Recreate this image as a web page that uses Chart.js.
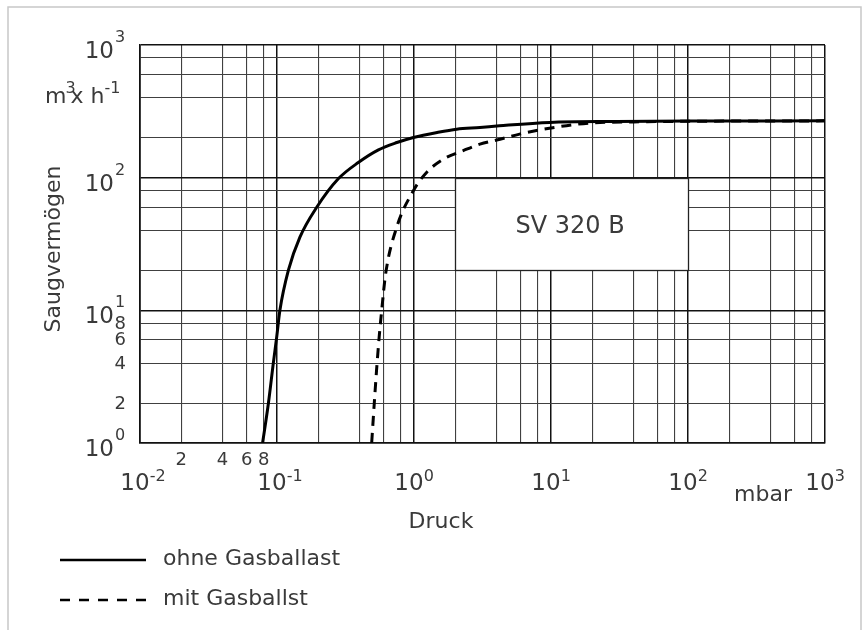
<!DOCTYPE html>
<html>
<head>
<meta charset="utf-8">
<script src="https://cdn.jsdelivr.net/npm/chart.js@4.4.1/dist/chart.umd.min.js"></script>
<style>
  html, body { margin: 0; padding: 0; background: #fff; }
  canvas { display: block; }
</style>
</head>
<body>
<canvas id="pumpChart" width="867" height="630"></canvas>
<script>
// Saugvermögen (m3/h) über Druck (mbar)
const druckOhne = [0.0785, 0.0866, 0.094, 0.0995, 0.105, 0.121, 0.147, 0.195, 0.28, 0.392, 0.55, 0.75, 0.99, 1.5, 2.05, 3.03, 4.2, 9.8, 30, 100, 1000];
const saugOhne  = [1, 2, 4, 6.3, 10, 20, 35.6, 59.8, 98, 130, 162, 184, 201, 220, 232, 239, 246, 261, 265, 267, 268];

const druckMit = [0.491, 0.513, 0.533, 0.557, 0.581, 0.621, 0.748, 0.99, 1.24, 1.64, 2.29, 3.03, 4.25, 5.9, 10, 19.3, 50, 100, 1000];
const saugMit  = [1, 2, 3.54, 6.3, 10, 18.9, 42.3, 79.8, 110, 138, 160, 179, 195, 213, 237, 258, 264, 266, 268];

const seriesNames = ['ohne Gasballast', 'mit Gasballst'];

// Achsen / Raster
const mantissas = [1, 2, 4, 6, 8];
const xDecades = [0.01, 0.1, 1, 10, 100, 1000];
const xExponents = ['-2', '-1', '0', '1', '2', '3'];
const yDecades = [1, 10, 100, 1000];
const yExponents = ['0', '1', '2', '3'];
const minorLabelValues = [2, 4, 6, 8];
const xMinorLabelValues = [0.02, 0.04, 0.06, 0.08];

const typeLabel = 'SV 320 B';
const typeBox = { xFrom: 2, xTo: 100, yFrom: 20, yTo: 100 };

const FONT = '"DejaVu Sans", sans-serif';
const TEXT = '#3a3a3a';

function gridValues(decades) {
  const vals = [];
  decades.forEach((d, i) => {
    if (i === decades.length - 1) { vals.push(d); return; }
    mantissas.forEach(m => vals.push(+(m * d).toPrecision(3)));
  });
  return vals;
}
const xGrid = gridValues(xDecades);
const yGrid = gridValues(yDecades);

function isDecade(v) {
  const l = Math.log10(v);
  return Math.abs(l - Math.round(l)) < 1e-6;
}

function toPoints(xs, ys) {
  return xs.map((x, i) => ({ x: x, y: ys[i] }));
}

const drawing = {
  id: 'drawing',
  beforeDraw(chart) {
    const ctx = chart.ctx;
    ctx.save();
    ctx.fillStyle = '#fff';
    ctx.fillRect(0, 0, chart.width, chart.height);
    ctx.strokeStyle = '#c8c8c8';
    ctx.lineWidth = 1.5;
    ctx.beginPath();
    ctx.moveTo(8, chart.height);
    ctx.lineTo(8, 7);
    ctx.lineTo(861, 7);
    ctx.lineTo(861, chart.height);
    ctx.stroke();
    ctx.restore();
  },
  beforeDatasetsDraw(chart) {
    const ctx = chart.ctx;
    const xs = chart.scales.x, ys = chart.scales.y;
    const l = Math.round(xs.getPixelForValue(typeBox.xFrom)) + 0.5;
    const r = Math.round(xs.getPixelForValue(typeBox.xTo)) + 0.5;
    const t = Math.round(ys.getPixelForValue(typeBox.yTo)) + 0.5;
    const b = Math.round(ys.getPixelForValue(typeBox.yFrom)) + 0.5;
    ctx.save();
    ctx.fillStyle = '#fff';
    ctx.fillRect(l, t, r - l, b - t);
    ctx.strokeStyle = '#222';
    ctx.lineWidth = 1.3;
    ctx.strokeRect(l, t, r - l, b - t);
    ctx.fillStyle = TEXT;
    ctx.font = '24px ' + FONT;
    ctx.textAlign = 'center';
    ctx.textBaseline = 'middle';
    ctx.fillText(typeLabel, (l + r) / 2 - 2, (t + b) / 2 + 2);
    ctx.restore();
  },
  afterDraw(chart) {
    const ctx = chart.ctx;
    const xs = chart.scales.x, ys = chart.scales.y;
    ctx.save();
    ctx.fillStyle = TEXT;
    ctx.textBaseline = 'alphabetic';

    // y-Achse: Dekaden
    yDecades.forEach((v, i) => {
      const py = ys.getPixelForValue(v);
      ctx.font = '23px ' + FONT;
      ctx.textAlign = 'right';
      ctx.fillText('10', 114, py + 13);
      ctx.font = '16px ' + FONT;
      ctx.textAlign = 'left';
      ctx.fillText(yExponents[i], 115, py - 3);
    });
    // y-Achse: Zwischenwerte
    ctx.font = '18px ' + FONT;
    ctx.textAlign = 'right';
    ctx.textBaseline = 'middle';
    minorLabelValues.forEach(v => {
      ctx.fillText(String(v), 126, ys.getPixelForValue(v) + 1);
    });
    ctx.textBaseline = 'alphabetic';

    // x-Achse: Dekaden
    xDecades.forEach((v, i) => {
      const px = xs.getPixelForValue(v);
      ctx.font = '23px ' + FONT;
      ctx.textAlign = 'center';
      const w = ctx.measureText('10').width;
      ctx.fillText('10', px - 5, 490);
      ctx.font = '16px ' + FONT;
      ctx.textAlign = 'left';
      ctx.fillText(xExponents[i], px - 5 + w / 2, 481);
    });
    // x-Achse: Zwischenwerte
    ctx.font = '18px ' + FONT;
    ctx.textAlign = 'center';
    xMinorLabelValues.forEach((v, i) => {
      ctx.fillText(String(minorLabelValues[i]), xs.getPixelForValue(v), 465);
    });

    // Einheiten
    ctx.font = '22px ' + FONT;
    ctx.textAlign = 'left';
    ctx.fillText('mbar', 734, 501);

    let ux = 45;
    ctx.fillText('m', ux, 103);
    ux += ctx.measureText('m').width;
    ctx.font = '16px ' + FONT;
    ctx.fillText('3', ux - 1, 93);
    ux += 4;
    ctx.font = '22px ' + FONT;
    ctx.fillText('x h', ux, 103);
    ux += ctx.measureText('x h').width;
    ctx.font = '16px ' + FONT;
    ctx.fillText('-1', ux, 93);

    // Achsentitel
    ctx.font = '22px ' + FONT;
    ctx.textAlign = 'center';
    ctx.textBaseline = 'middle';
    ctx.fillText('Druck', 441, 522);
    ctx.save();
    ctx.translate(54, 249);
    ctx.rotate(-Math.PI / 2);
    ctx.fillText('Saugvermögen', 0, 0);
    ctx.restore();

    // Legende
    chart.data.datasets.forEach((ds, i) => {
      const y = 560 + i * 40;
      ctx.strokeStyle = ds.borderColor;
      ctx.lineWidth = 2.6;
      ctx.setLineDash(i === 0 ? [] : [10, 9]);
      ctx.beginPath();
      ctx.moveTo(60, y);
      ctx.lineTo(146, y);
      ctx.stroke();
      ctx.setLineDash([]);
      ctx.textAlign = 'left';
      ctx.fillText(ds.label, 163, y - 1);
    });
    ctx.restore();
  }
};

function axis(ticks, min, max) {
  return {
    type: 'logarithmic',
    min: min,
    max: max,
    afterBuildTicks: (scale) => { scale.ticks = ticks.map(v => ({ value: v })); },
    ticks: { display: false },
    grid: {
      drawTicks: false,
      color: (c) => (c.tick && isDecade(c.tick.value)) ? '#111' : '#404040',
      lineWidth: (c) => (c.tick && isDecade(c.tick.value)) ? 1.5 : 1.1
    },
    border: { display: true, color: '#111', width: 1.6 }
  };
}

new Chart(document.getElementById('pumpChart'), {
  type: 'line',
  data: {
    datasets: [{
      label: seriesNames[0],
      data: toPoints(druckOhne, saugOhne),
      borderColor: '#000',
      borderWidth: 3,
      pointRadius: 0,
      cubicInterpolationMode: 'monotone',
      fill: false
    }, {
      label: seriesNames[1],
      data: toPoints(druckMit, saugMit),
      borderColor: '#000',
      borderWidth: 3,
      borderDash: [10, 7],
      pointRadius: 0,
      cubicInterpolationMode: 'monotone',
      fill: false
    }]
  },
  options: {
    responsive: false,
    animation: false,
    devicePixelRatio: 1,
    layout: { padding: { left: 140, top: 45, right: 42, bottom: 187 } },
    plugins: { legend: { display: false }, tooltip: { enabled: false }, title: { display: false } },
    scales: {
      x: axis(xGrid, 0.01, 1000),
      y: axis(yGrid, 1, 1000)
    }
  },
  plugins: [drawing]
});
</script>
</body>
</html>
